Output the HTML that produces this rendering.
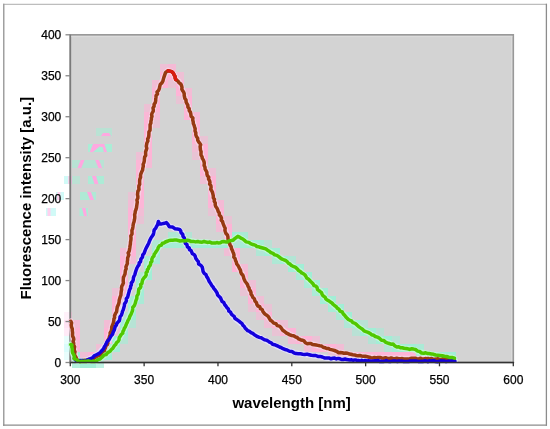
<!DOCTYPE html>
<html><head><meta charset="utf-8"><style>
html,body{margin:0;padding:0;background:#fff;}
svg{display:block;will-change:transform;}
.tl{font-family:"Liberation Sans",sans-serif;font-size:12px;fill:#000;stroke:#000;stroke-width:0.25px;}
.tt{font-family:"Liberation Sans",sans-serif;font-size:15px;font-weight:bold;fill:#000;}
.yt{stroke:#888;stroke-width:1.3;}
.xt{stroke:#333;stroke-width:1.3;}
.cv{fill:none;stroke-width:3.5;stroke-linejoin:round;stroke-linecap:round;}
.b{mix-blend-mode:color;}
</style></head><body>
<svg width="550" height="429" viewBox="0 0 550 429">
<rect x="0" y="0" width="550" height="429" fill="#fff"/>
<line x1="3" y1="4.3" x2="547" y2="4.3" stroke="#bdbdbd" stroke-width="1.3"/>
<line x1="3.75" y1="3.7" x2="3.75" y2="425.8" stroke="#a0a0a0" stroke-width="1.5"/>
<line x1="546.4" y1="3.7" x2="546.4" y2="425.8" stroke="#8c8c8c" stroke-width="1.3"/>
<line x1="3" y1="425.1" x2="547" y2="425.1" stroke="#8c8c8c" stroke-width="1.3"/>
<rect x="70.3" y="34.8" width="443.00" height="327.70" fill="#d3d3d3"/>
<rect x="160" y="64" width="8" height="8" fill="rgb(254,180,214)" opacity="0.63"/>
<rect x="168" y="64" width="8" height="8" fill="rgb(254,180,214)" opacity="0.78"/>
<rect x="160" y="72" width="8" height="8" fill="rgb(254,180,214)" opacity="1.00"/>
<rect x="168" y="72" width="8" height="8" fill="rgb(254,180,214)" opacity="1.00"/>
<rect x="176" y="72" width="8" height="8" fill="rgb(254,180,214)" opacity="0.63"/>
<rect x="152" y="80" width="8" height="8" fill="rgb(254,180,214)" opacity="0.71"/>
<rect x="160" y="80" width="8" height="8" fill="rgb(254,180,214)" opacity="1.00"/>
<rect x="168" y="80" width="8" height="8" fill="rgb(254,180,214)" opacity="0.51"/>
<rect x="176" y="80" width="8" height="8" fill="rgb(254,180,214)" opacity="1.00"/>
<rect x="152" y="88" width="8" height="8" fill="rgb(254,180,214)" opacity="1.00"/>
<rect x="176" y="88" width="8" height="8" fill="rgb(254,180,214)" opacity="1.00"/>
<rect x="184" y="88" width="8" height="8" fill="rgb(254,180,214)" opacity="0.75"/>
<rect x="152" y="96" width="8" height="8" fill="rgb(254,180,214)" opacity="1.00"/>
<rect x="176" y="96" width="8" height="8" fill="rgb(254,180,214)" opacity="0.51"/>
<rect x="184" y="96" width="8" height="8" fill="rgb(254,180,214)" opacity="1.00"/>
<rect x="144" y="104" width="8" height="8" fill="rgb(254,180,214)" opacity="0.60"/>
<rect x="152" y="104" width="8" height="8" fill="rgb(254,180,214)" opacity="1.00"/>
<rect x="184" y="104" width="8" height="8" fill="rgb(254,180,214)" opacity="1.00"/>
<rect x="144" y="112" width="8" height="8" fill="rgb(254,180,214)" opacity="0.90"/>
<rect x="152" y="112" width="8" height="8" fill="rgb(254,180,214)" opacity="0.81"/>
<rect x="184" y="112" width="8" height="8" fill="rgb(254,180,214)" opacity="0.94"/>
<rect x="192" y="112" width="8" height="8" fill="rgb(254,180,214)" opacity="0.79"/>
<rect x="144" y="120" width="8" height="8" fill="rgb(254,180,214)" opacity="1.00"/>
<rect x="152" y="120" width="8" height="8" fill="rgb(254,180,214)" opacity="0.53"/>
<rect x="192" y="120" width="8" height="8" fill="rgb(254,180,214)" opacity="1.00"/>
<rect x="144" y="128" width="8" height="8" fill="rgb(254,180,214)" opacity="1.00"/>
<rect x="192" y="128" width="8" height="8" fill="rgb(254,180,214)" opacity="1.00"/>
<rect x="144" y="136" width="8" height="8" fill="rgb(254,180,214)" opacity="1.00"/>
<rect x="192" y="136" width="8" height="8" fill="rgb(254,180,214)" opacity="1.00"/>
<rect x="200" y="136" width="8" height="8" fill="rgb(254,180,214)" opacity="0.51"/>
<rect x="144" y="144" width="8" height="8" fill="rgb(254,180,214)" opacity="1.00"/>
<rect x="192" y="144" width="8" height="8" fill="rgb(254,180,214)" opacity="0.70"/>
<rect x="200" y="144" width="8" height="8" fill="rgb(254,180,214)" opacity="1.00"/>
<rect x="136" y="152" width="8" height="8" fill="rgb(254,180,214)" opacity="0.62"/>
<rect x="144" y="152" width="8" height="8" fill="rgb(254,180,214)" opacity="1.00"/>
<rect x="192" y="152" width="8" height="8" fill="rgb(254,180,214)" opacity="0.49"/>
<rect x="200" y="152" width="8" height="8" fill="rgb(254,180,214)" opacity="1.00"/>
<rect x="136" y="160" width="8" height="8" fill="rgb(254,180,214)" opacity="0.94"/>
<rect x="144" y="160" width="8" height="8" fill="rgb(254,180,214)" opacity="0.77"/>
<rect x="200" y="160" width="8" height="8" fill="rgb(254,180,214)" opacity="1.00"/>
<rect x="136" y="168" width="8" height="8" fill="rgb(254,180,214)" opacity="1.00"/>
<rect x="200" y="168" width="8" height="8" fill="rgb(254,180,214)" opacity="1.00"/>
<rect x="208" y="168" width="8" height="8" fill="rgb(254,180,214)" opacity="0.61"/>
<rect x="136" y="176" width="8" height="8" fill="rgb(254,180,214)" opacity="1.00"/>
<rect x="200" y="176" width="8" height="8" fill="rgb(254,180,214)" opacity="0.63"/>
<rect x="208" y="176" width="8" height="8" fill="rgb(254,180,214)" opacity="1.00"/>
<rect x="136" y="184" width="8" height="8" fill="rgb(254,180,214)" opacity="1.00"/>
<rect x="208" y="184" width="8" height="8" fill="rgb(254,180,214)" opacity="1.00"/>
<rect x="128" y="192" width="8" height="8" fill="rgb(254,180,214)" opacity="0.51"/>
<rect x="136" y="192" width="8" height="8" fill="rgb(254,180,214)" opacity="1.00"/>
<rect x="208" y="192" width="8" height="8" fill="rgb(254,180,214)" opacity="1.00"/>
<rect x="128" y="200" width="8" height="8" fill="rgb(254,180,214)" opacity="0.73"/>
<rect x="136" y="200" width="8" height="8" fill="rgb(254,180,214)" opacity="0.96"/>
<rect x="208" y="200" width="8" height="8" fill="rgb(254,180,214)" opacity="0.97"/>
<rect x="216" y="200" width="8" height="8" fill="rgb(254,180,214)" opacity="0.78"/>
<rect x="128" y="208" width="8" height="8" fill="rgb(254,180,214)" opacity="0.98"/>
<rect x="136" y="208" width="8" height="8" fill="rgb(254,180,214)" opacity="0.72"/>
<rect x="208" y="208" width="8" height="8" fill="rgb(254,180,214)" opacity="0.51"/>
<rect x="216" y="208" width="8" height="8" fill="rgb(254,180,214)" opacity="1.00"/>
<rect x="128" y="216" width="8" height="8" fill="rgb(254,180,214)" opacity="1.00"/>
<rect x="136" y="216" width="8" height="8" fill="rgb(254,180,214)" opacity="0.49"/>
<rect x="216" y="216" width="8" height="8" fill="rgb(254,180,214)" opacity="1.00"/>
<rect x="224" y="216" width="8" height="8" fill="rgb(254,180,214)" opacity="0.51"/>
<rect x="128" y="224" width="8" height="8" fill="rgb(254,180,214)" opacity="1.00"/>
<rect x="216" y="224" width="8" height="8" fill="rgb(254,180,214)" opacity="0.71"/>
<rect x="224" y="224" width="8" height="8" fill="rgb(254,180,214)" opacity="1.00"/>
<rect x="128" y="232" width="8" height="8" fill="rgb(254,180,214)" opacity="1.00"/>
<rect x="168" y="232" width="8" height="8" fill="rgb(162,238,214)" opacity="0.73"/>
<rect x="176" y="232" width="8" height="8" fill="rgb(162,238,214)" opacity="0.67"/>
<rect x="184" y="232" width="8" height="8" fill="rgb(162,238,214)" opacity="0.62"/>
<rect x="224" y="232" width="8" height="8" fill="rgb(254,180,214)" opacity="1.00"/>
<rect x="232" y="232" width="8" height="8" fill="rgb(162,238,214)" opacity="1.00"/>
<rect x="240" y="232" width="8" height="8" fill="rgb(162,238,214)" opacity="0.86"/>
<rect x="128" y="240" width="8" height="8" fill="rgb(254,180,214)" opacity="1.00"/>
<rect x="152" y="240" width="8" height="8" fill="rgb(162,238,214)" opacity="0.72"/>
<rect x="160" y="240" width="8" height="8" fill="rgb(162,238,214)" opacity="1.00"/>
<rect x="168" y="240" width="8" height="8" fill="rgb(162,238,214)" opacity="0.94"/>
<rect x="176" y="240" width="8" height="8" fill="rgb(162,238,214)" opacity="0.97"/>
<rect x="184" y="240" width="8" height="8" fill="rgb(162,238,214)" opacity="1.00"/>
<rect x="192" y="240" width="8" height="8" fill="rgb(162,238,214)" opacity="1.00"/>
<rect x="200" y="240" width="8" height="8" fill="rgb(162,238,214)" opacity="1.00"/>
<rect x="208" y="240" width="8" height="8" fill="rgb(162,238,214)" opacity="1.00"/>
<rect x="216" y="240" width="8" height="8" fill="rgb(162,238,214)" opacity="1.00"/>
<rect x="224" y="240" width="8" height="8" fill="rgb(162,238,214)" opacity="1.00"/>
<rect x="232" y="240" width="8" height="8" fill="rgb(162,238,214)" opacity="0.63"/>
<rect x="240" y="240" width="8" height="8" fill="rgb(162,238,214)" opacity="0.92"/>
<rect x="248" y="240" width="8" height="8" fill="rgb(162,238,214)" opacity="1.00"/>
<rect x="256" y="240" width="8" height="8" fill="rgb(162,238,214)" opacity="0.95"/>
<rect x="264" y="240" width="8" height="8" fill="rgb(162,238,214)" opacity="0.51"/>
<rect x="120" y="248" width="8" height="8" fill="rgb(254,180,214)" opacity="0.70"/>
<rect x="128" y="248" width="8" height="8" fill="rgb(254,180,214)" opacity="1.00"/>
<rect x="152" y="248" width="8" height="8" fill="rgb(162,238,214)" opacity="1.00"/>
<rect x="224" y="248" width="8" height="8" fill="rgb(254,180,214)" opacity="0.69"/>
<rect x="232" y="248" width="8" height="8" fill="rgb(254,180,214)" opacity="1.00"/>
<rect x="256" y="248" width="8" height="8" fill="rgb(162,238,214)" opacity="0.71"/>
<rect x="264" y="248" width="8" height="8" fill="rgb(162,238,214)" opacity="1.00"/>
<rect x="272" y="248" width="8" height="8" fill="rgb(162,238,214)" opacity="1.00"/>
<rect x="120" y="256" width="8" height="8" fill="rgb(254,180,214)" opacity="0.98"/>
<rect x="128" y="256" width="8" height="8" fill="rgb(254,180,214)" opacity="0.73"/>
<rect x="144" y="256" width="8" height="8" fill="rgb(162,238,214)" opacity="0.88"/>
<rect x="152" y="256" width="8" height="8" fill="rgb(162,238,214)" opacity="0.84"/>
<rect x="232" y="256" width="8" height="8" fill="rgb(254,180,214)" opacity="1.00"/>
<rect x="272" y="256" width="8" height="8" fill="rgb(162,238,214)" opacity="0.77"/>
<rect x="280" y="256" width="8" height="8" fill="rgb(162,238,214)" opacity="1.00"/>
<rect x="288" y="256" width="8" height="8" fill="rgb(162,238,214)" opacity="0.65"/>
<rect x="120" y="264" width="8" height="8" fill="rgb(254,180,214)" opacity="1.00"/>
<rect x="144" y="264" width="8" height="8" fill="rgb(162,238,214)" opacity="1.00"/>
<rect x="232" y="264" width="8" height="8" fill="rgb(254,180,214)" opacity="1.00"/>
<rect x="240" y="264" width="8" height="8" fill="rgb(254,180,214)" opacity="0.75"/>
<rect x="288" y="264" width="8" height="8" fill="rgb(162,238,214)" opacity="1.00"/>
<rect x="296" y="264" width="8" height="8" fill="rgb(162,238,214)" opacity="1.00"/>
<rect x="120" y="272" width="8" height="8" fill="rgb(254,180,214)" opacity="1.00"/>
<rect x="136" y="272" width="8" height="8" fill="rgb(162,238,214)" opacity="0.65"/>
<rect x="144" y="272" width="8" height="8" fill="rgb(162,238,214)" opacity="1.00"/>
<rect x="240" y="272" width="8" height="8" fill="rgb(254,180,214)" opacity="1.00"/>
<rect x="296" y="272" width="8" height="8" fill="rgb(162,238,214)" opacity="0.83"/>
<rect x="304" y="272" width="8" height="8" fill="rgb(162,238,214)" opacity="1.00"/>
<rect x="120" y="280" width="8" height="8" fill="rgb(254,180,214)" opacity="1.00"/>
<rect x="136" y="280" width="8" height="8" fill="rgb(162,238,214)" opacity="1.00"/>
<rect x="240" y="280" width="8" height="8" fill="rgb(254,180,214)" opacity="1.00"/>
<rect x="248" y="280" width="8" height="8" fill="rgb(254,180,214)" opacity="0.64"/>
<rect x="304" y="280" width="8" height="8" fill="rgb(162,238,214)" opacity="0.85"/>
<rect x="312" y="280" width="8" height="8" fill="rgb(162,238,214)" opacity="1.00"/>
<rect x="112" y="288" width="8" height="8" fill="rgb(254,180,214)" opacity="0.59"/>
<rect x="120" y="288" width="8" height="8" fill="rgb(254,180,214)" opacity="1.00"/>
<rect x="136" y="288" width="8" height="8" fill="rgb(162,238,214)" opacity="1.00"/>
<rect x="240" y="288" width="8" height="8" fill="rgb(254,180,214)" opacity="0.51"/>
<rect x="248" y="288" width="8" height="8" fill="rgb(254,180,214)" opacity="1.00"/>
<rect x="312" y="288" width="8" height="8" fill="rgb(162,238,214)" opacity="0.85"/>
<rect x="320" y="288" width="8" height="8" fill="rgb(162,238,214)" opacity="1.00"/>
<rect x="112" y="296" width="8" height="8" fill="rgb(254,180,214)" opacity="1.00"/>
<rect x="120" y="296" width="8" height="8" fill="rgb(254,180,214)" opacity="0.70"/>
<rect x="128" y="296" width="8" height="8" fill="rgb(162,238,214)" opacity="0.89"/>
<rect x="136" y="296" width="8" height="8" fill="rgb(162,238,214)" opacity="0.86"/>
<rect x="248" y="296" width="8" height="8" fill="rgb(254,180,214)" opacity="1.00"/>
<rect x="256" y="296" width="8" height="8" fill="rgb(254,180,214)" opacity="0.64"/>
<rect x="320" y="296" width="8" height="8" fill="rgb(162,238,214)" opacity="1.00"/>
<rect x="328" y="296" width="8" height="8" fill="rgb(162,238,214)" opacity="1.00"/>
<rect x="112" y="304" width="8" height="8" fill="rgb(254,180,214)" opacity="1.00"/>
<rect x="128" y="304" width="8" height="8" fill="rgb(162,238,214)" opacity="1.00"/>
<rect x="248" y="304" width="8" height="8" fill="rgb(254,180,214)" opacity="0.50"/>
<rect x="256" y="304" width="8" height="8" fill="rgb(254,180,214)" opacity="1.00"/>
<rect x="264" y="304" width="8" height="8" fill="rgb(254,180,214)" opacity="0.52"/>
<rect x="328" y="304" width="8" height="8" fill="rgb(162,238,214)" opacity="0.90"/>
<rect x="336" y="304" width="8" height="8" fill="rgb(162,238,214)" opacity="1.00"/>
<rect x="64" y="312" width="6.3" height="8" fill="rgb(255,226,244)" opacity="0.49"/>
<rect x="70.3" y="312" width="1.7" height="8" fill="rgb(254,180,214)" opacity="0.49"/>
<rect x="112" y="312" width="8" height="8" fill="rgb(254,180,214)" opacity="1.00"/>
<rect x="120" y="312" width="8" height="8" fill="rgb(162,238,214)" opacity="0.55"/>
<rect x="128" y="312" width="8" height="8" fill="rgb(162,238,214)" opacity="1.00"/>
<rect x="256" y="312" width="8" height="8" fill="rgb(254,180,214)" opacity="0.54"/>
<rect x="264" y="312" width="8" height="8" fill="rgb(254,180,214)" opacity="1.00"/>
<rect x="336" y="312" width="8" height="8" fill="rgb(162,238,214)" opacity="0.77"/>
<rect x="344" y="312" width="8" height="8" fill="rgb(162,238,214)" opacity="1.00"/>
<rect x="64" y="320" width="6.3" height="8" fill="rgb(255,226,244)" opacity="0.97"/>
<rect x="70.3" y="320" width="1.7" height="8" fill="rgb(254,180,214)" opacity="0.97"/>
<rect x="72" y="320" width="8" height="8" fill="rgb(254,180,214)" opacity="0.74"/>
<rect x="104" y="320" width="8" height="8" fill="rgb(254,180,214)" opacity="0.73"/>
<rect x="112" y="320" width="8" height="8" fill="rgb(254,180,214)" opacity="0.99"/>
<rect x="120" y="320" width="8" height="8" fill="rgb(162,238,214)" opacity="1.00"/>
<rect x="128" y="320" width="8" height="8" fill="rgb(162,238,214)" opacity="0.59"/>
<rect x="264" y="320" width="8" height="8" fill="rgb(254,180,214)" opacity="0.65"/>
<rect x="272" y="320" width="8" height="8" fill="rgb(254,180,214)" opacity="1.00"/>
<rect x="280" y="320" width="8" height="8" fill="rgb(254,180,214)" opacity="0.60"/>
<rect x="344" y="320" width="8" height="8" fill="rgb(162,238,214)" opacity="0.74"/>
<rect x="352" y="320" width="8" height="8" fill="rgb(162,238,214)" opacity="1.00"/>
<rect x="360" y="320" width="8" height="8" fill="rgb(162,238,214)" opacity="0.56"/>
<rect x="64" y="328" width="6.3" height="8" fill="rgb(255,226,244)" opacity="0.71"/>
<rect x="70.3" y="328" width="1.7" height="8" fill="rgb(254,180,214)" opacity="0.71"/>
<rect x="72" y="328" width="8" height="8" fill="rgb(254,180,214)" opacity="0.99"/>
<rect x="104" y="328" width="8" height="8" fill="rgb(254,180,214)" opacity="1.00"/>
<rect x="112" y="328" width="8" height="8" fill="rgb(254,180,214)" opacity="0.57"/>
<rect x="120" y="328" width="8" height="8" fill="rgb(162,238,214)" opacity="1.00"/>
<rect x="272" y="328" width="8" height="8" fill="rgb(254,180,214)" opacity="0.50"/>
<rect x="280" y="328" width="8" height="8" fill="rgb(254,180,214)" opacity="1.00"/>
<rect x="288" y="328" width="8" height="8" fill="rgb(254,180,214)" opacity="0.98"/>
<rect x="352" y="328" width="8" height="8" fill="rgb(162,238,214)" opacity="0.52"/>
<rect x="360" y="328" width="8" height="8" fill="rgb(162,238,214)" opacity="1.00"/>
<rect x="368" y="328" width="8" height="8" fill="rgb(162,238,214)" opacity="1.00"/>
<rect x="376" y="328" width="8" height="8" fill="rgb(162,238,214)" opacity="0.50"/>
<rect x="64" y="336" width="6.3" height="8" fill="rgb(212,252,250)" opacity="0.53"/>
<rect x="70.3" y="336" width="1.7" height="8" fill="rgb(162,238,214)" opacity="0.53"/>
<rect x="72" y="336" width="8" height="8" fill="rgb(254,180,214)" opacity="1.00"/>
<rect x="104" y="336" width="8" height="8" fill="rgb(254,180,214)" opacity="1.00"/>
<rect x="112" y="336" width="8" height="8" fill="rgb(162,238,214)" opacity="1.00"/>
<rect x="120" y="336" width="8" height="8" fill="rgb(162,238,214)" opacity="0.61"/>
<rect x="288" y="336" width="8" height="8" fill="rgb(254,180,214)" opacity="0.75"/>
<rect x="296" y="336" width="8" height="8" fill="rgb(254,180,214)" opacity="1.00"/>
<rect x="304" y="336" width="8" height="8" fill="rgb(254,180,214)" opacity="1.00"/>
<rect x="312" y="336" width="8" height="8" fill="rgb(254,180,214)" opacity="0.57"/>
<rect x="368" y="336" width="8" height="8" fill="rgb(162,238,214)" opacity="0.62"/>
<rect x="376" y="336" width="8" height="8" fill="rgb(162,238,214)" opacity="1.00"/>
<rect x="384" y="336" width="8" height="8" fill="rgb(162,238,214)" opacity="1.00"/>
<rect x="392" y="336" width="8" height="8" fill="rgb(162,238,214)" opacity="0.52"/>
<rect x="64" y="344" width="6.3" height="8" fill="rgb(212,252,250)" opacity="0.87"/>
<rect x="70.3" y="344" width="1.7" height="8" fill="rgb(162,238,214)" opacity="0.87"/>
<rect x="72" y="344" width="8" height="8" fill="rgb(254,180,214)" opacity="1.00"/>
<rect x="96" y="344" width="8" height="8" fill="rgb(254,180,214)" opacity="0.66"/>
<rect x="104" y="344" width="8" height="8" fill="rgb(162,238,214)" opacity="0.91"/>
<rect x="112" y="344" width="8" height="8" fill="rgb(162,238,214)" opacity="1.00"/>
<rect x="304" y="344" width="8" height="8" fill="rgb(254,180,214)" opacity="0.71"/>
<rect x="312" y="344" width="8" height="8" fill="rgb(254,180,214)" opacity="1.00"/>
<rect x="320" y="344" width="8" height="8" fill="rgb(254,180,214)" opacity="1.00"/>
<rect x="328" y="344" width="8" height="8" fill="rgb(254,180,214)" opacity="1.00"/>
<rect x="336" y="344" width="8" height="8" fill="rgb(254,180,214)" opacity="0.71"/>
<rect x="384" y="344" width="8" height="8" fill="rgb(162,238,214)" opacity="0.61"/>
<rect x="392" y="344" width="8" height="8" fill="rgb(162,238,214)" opacity="1.00"/>
<rect x="400" y="344" width="8" height="8" fill="rgb(162,238,214)" opacity="1.00"/>
<rect x="408" y="344" width="8" height="8" fill="rgb(162,238,214)" opacity="1.00"/>
<rect x="416" y="344" width="8" height="8" fill="rgb(162,238,214)" opacity="0.83"/>
<rect x="64" y="352" width="6.3" height="8" fill="rgb(212,252,250)" opacity="0.54"/>
<rect x="70.3" y="352" width="1.7" height="8" fill="rgb(162,238,214)" opacity="0.54"/>
<rect x="72" y="352" width="8" height="8" fill="rgb(162,238,214)" opacity="1.00"/>
<rect x="80" y="352" width="8" height="8" fill="rgb(254,180,214)" opacity="0.69"/>
<rect x="88" y="352" width="8" height="8" fill="rgb(254,180,214)" opacity="1.00"/>
<rect x="96" y="352" width="8" height="8" fill="rgb(162,238,214)" opacity="1.00"/>
<rect x="104" y="352" width="8" height="8" fill="rgb(162,238,214)" opacity="1.00"/>
<rect x="328" y="352" width="8" height="8" fill="rgb(254,180,214)" opacity="0.53"/>
<rect x="336" y="352" width="8" height="8" fill="rgb(254,180,214)" opacity="0.97"/>
<rect x="344" y="352" width="8" height="8" fill="rgb(254,180,214)" opacity="1.00"/>
<rect x="352" y="352" width="8" height="8" fill="rgb(254,180,214)" opacity="1.00"/>
<rect x="360" y="352" width="8" height="8" fill="rgb(254,180,214)" opacity="1.00"/>
<rect x="368" y="352" width="8" height="8" fill="rgb(254,180,214)" opacity="1.00"/>
<rect x="376" y="352" width="8" height="8" fill="rgb(254,180,214)" opacity="1.00"/>
<rect x="384" y="352" width="8" height="8" fill="rgb(254,180,214)" opacity="1.00"/>
<rect x="392" y="352" width="8" height="8" fill="rgb(254,180,214)" opacity="1.00"/>
<rect x="400" y="352" width="8" height="8" fill="rgb(254,180,214)" opacity="1.00"/>
<rect x="408" y="352" width="8" height="8" fill="rgb(254,180,214)" opacity="1.00"/>
<rect x="416" y="352" width="8" height="8" fill="rgb(162,238,214)" opacity="0.89"/>
<rect x="424" y="352" width="8" height="8" fill="rgb(162,238,214)" opacity="1.00"/>
<rect x="432" y="352" width="8" height="8" fill="rgb(162,238,214)" opacity="1.00"/>
<rect x="440" y="352" width="8" height="8" fill="rgb(162,238,214)" opacity="1.00"/>
<rect x="448" y="352" width="8" height="8" fill="rgb(162,238,214)" opacity="1.00"/>
<rect x="72" y="360" width="8" height="8" fill="rgb(162,238,214)" opacity="0.82"/>
<rect x="80" y="360" width="8" height="8" fill="rgb(162,238,214)" opacity="1.00"/>
<rect x="88" y="360" width="8" height="8" fill="rgb(162,238,214)" opacity="1.00"/>
<rect x="96" y="360" width="8" height="8" fill="rgb(162,238,214)" opacity="0.69"/>
<rect x="96" y="128" width="16" height="8" fill="#a6efd6" opacity="0.55"/>
<polygon points="103,133 109,133 111,136 101,136" fill="#ffa8e0"/>
<rect x="88" y="144" width="24" height="8" fill="#a6efd6" opacity="0.9"/>
<polygon points="93,144 102.5,144 93,152 89.8,152" fill="#ffa8e0"/>
<polygon points="96.3,144 104.3,144 103.5,147 101,147" fill="#ffa8e0"/>
<polygon points="102,144 104.3,144 107,152 103.8,152" fill="#ffa8e0"/>
<rect x="72" y="160" width="32" height="8" fill="#a6efd6" opacity="0.6"/>
<polygon points="80.7,160 84.5,160 81.3,168 77.5,168" fill="#ffa8e0"/>
<polygon points="95.2,160 99,160 102.2,168 98.4,168" fill="#ffa8e0"/>
<rect x="64" y="176" width="6.299999999999997" height="8" fill="#ccf9f6" opacity="0.9"/>
<rect x="70.3" y="176" width="9.700000000000003" height="8" fill="#a6efd6" opacity="0.5"/>
<rect x="88" y="176" width="16" height="8" fill="#a6efd6" opacity="0.85"/>
<rect x="68.2" y="176" width="2.0999999999999943" height="8" fill="#ffd0ee" opacity="1"/>
<rect x="70.3" y="176" width="1.4000000000000057" height="8" fill="#ffa8e0" opacity="1"/>
<polygon points="92,176 96,176 98.5,184 94.5,184" fill="#ffa8e0"/>
<rect x="56" y="192" width="8" height="8" fill="#ccf9f6" opacity="0.9"/>
<polygon points="57.5,192 60.5,192 60,200 57,200" fill="#ffd0ee"/>
<rect x="80" y="192" width="16" height="8" fill="#a6efd6" opacity="0.8"/>
<polygon points="87,192 91,192 94,200 90,200" fill="#ffa8e0"/>
<rect x="46" y="208" width="10" height="8" fill="#ccf9f6" opacity="0.9"/>
<polygon points="47.5,208 50.5,208 50.5,216 47.5,216" fill="#ffd0ee"/>
<rect x="79.5" y="208" width="8.5" height="8" fill="#a6efd6" opacity="0.85"/>
<polygon points="82,208 85.5,208 87,216 84,216" fill="#ffa8e0"/>
<rect x="70.3" y="34.8" width="443.00" height="327.70" fill="none" stroke="#999" stroke-width="1.6"/>
<line x1="70.3" y1="34.8" x2="70.3" y2="362.5" stroke="#7a7a7a" stroke-width="1.6"/>
<line x1="71.3" y1="36.6" x2="512.3" y2="36.6" stroke="#dcdcdc" stroke-width="1"/>
<line x1="511.6" y1="36" x2="511.6" y2="361.5" stroke="#dcdcdc" stroke-width="1"/>
<polyline class="cv" stroke="#f6d2e2" style="stroke-width:5.7px" points="70.8,321.2 71.6,325.0 72.5,332.8 73.3,339.5 73.8,345.1 74.7,351.8 75.5,357.4 76.6,360.2 79.0,360.6 85.0,360.6 92.0,359.4 100.0,355.0 104.0,350.5 107.5,343.0 110.2,333.0 111.5,329.0 112.3,325.3 113.4,320.7 115.0,316.0 116.3,311.5 117.6,307.0 118.9,302.0 120.6,295.0 122.0,288.0 123.1,281.0 124.5,274.0 126.2,267.0 127.6,260.0 128.6,253.0 129.7,246.0 130.8,240.0 131.6,234.0 132.9,227.0 134.3,220.0 135.4,213.0 136.4,206.0 137.2,200.0 138.2,193.0 139.3,186.0 140.3,179.0 141.4,172.0 142.6,170.0 144.7,159.0 146.8,146.4 148.9,133.8 151.0,121.2 153.2,108.0 155.4,100.6 157.5,92.2 159.6,86.6 162.4,81.0 165.9,72.6 168.0,70.5 171.5,71.9 174.3,74.7 175.7,79.6 178.5,81.0 181.3,85.9 183.4,92.2 185.8,100.0 188.4,107.0 190.5,114.0 192.6,118.2 194.0,125.2 195.4,130.8 196.8,136.4 198.2,142.0 200.3,144.8 201.3,155.0 204.1,163.4 205.5,169.0 208.3,177.4 210.4,185.8 212.5,194.2 214.6,201.2 216.7,208.1 219.6,215.0 223.1,223.4 225.9,231.8 228.7,240.2 231.5,248.6 234.3,257.0 237.8,265.4 242.0,273.7 244.5,279.8 248.7,288.2 251.9,295.7 254.4,298.8 256.9,304.5 260.7,308.3 264.4,312.7 268.2,317.1 272.0,321.5 275.8,324.0 280.8,327.8 283.0,329.9 286.5,332.5 290.0,334.7 293.5,336.0 297.0,337.8 300.5,339.5 303.9,341.3 307.4,343.5 310.9,343.5 314.4,344.8 317.9,345.6 321.4,346.5 324.9,347.8 328.4,349.1 330.0,349.6 334.4,350.9 338.7,352.3 344.0,353.1 349.2,354.0 356.2,355.3 363.2,356.2 369.3,357.1 376.2,357.9 387.3,358.1 396.7,358.4 406.0,358.6 415.3,358.6 430.0,358.9 454.0,359.2"/>
<polyline class="cv" stroke="#e2e0fa" style="stroke-width:5.7px" points="74.4,358.5 77.2,360.7 80.0,361.0 85.0,360.7 88.4,359.6 92.8,357.4 96.0,355.1 98.8,353.8 101.6,350.3 104.4,346.8 107.2,342.6 110.0,338.4 112.1,334.2 114.2,330.0 117.2,323.7 119.6,318.8 121.7,313.2 123.5,307.6 125.3,302.0 127.3,297.1 128.7,292.9 130.1,288.0 131.5,283.1 132.9,279.6 134.4,274.5 136.0,270.5 138.1,266.3 140.2,261.4 142.1,257.0 143.6,253.2 145.7,249.0 147.8,244.8 149.9,240.6 152.0,236.4 153.7,232.2 155.5,228.0 157.2,224.4 158.5,221.8 159.8,223.7 161.7,224.4 164.4,223.1 166.3,222.8 167.6,224.4 169.6,226.4 172.2,227.3 174.8,228.7 177.5,228.7 179.4,229.6 181.4,232.3 182.7,234.5 183.8,238.0 185.5,243.2 187.8,246.7 191.5,252.2 194.8,256.0 196.9,260.2 199.0,263.7 201.8,267.2 203.2,271.4 205.6,274.9 207.4,278.4 209.8,281.9 212.3,285.4 215.0,289.5 217.8,294.9 222.4,301.3 226.9,307.6 231.5,314.0 236.0,319.5 238.0,321.0 241.8,324.0 245.6,327.8 249.3,331.6 254.4,334.7 259.4,337.2 264.4,339.7 269.5,342.3 276.0,345.8 283.0,348.7 287.4,350.4 291.7,351.7 296.1,353.1 300.5,353.9 304.8,354.4 309.2,354.8 313.5,355.7 317.9,356.1 322.3,357.0 326.6,357.9 331.0,358.3 340.0,359.0 350.0,360.0 360.0,360.7 375.0,361.1 455.0,361.2"/>
<polyline class="cv" stroke="#c4f4d8" style="stroke-width:5.7px" points="70.8,344.5 71.6,345.0 72.7,352.9 74.4,358.5 77.2,360.7 80.0,361.2 85.0,361.2 94.7,361.2 98.1,360.0 103.0,356.6 107.2,353.1 110.0,350.7 112.5,348.0 114.6,345.6 116.5,342.8 118.6,339.6 120.6,336.2 122.3,333.0 123.7,330.0 126.1,325.3 127.8,320.7 129.6,316.3 131.5,312.0 133.1,307.3 135.0,302.7 136.6,298.4 137.8,294.0 139.3,289.3 141.0,284.7 143.0,280.0 145.0,276.5 146.6,273.0 148.3,268.5 150.1,264.0 152.0,259.5 153.8,256.0 155.5,253.2 157.6,249.0 159.7,246.2 162.5,243.4 165.3,241.6 168.0,241.1 169.1,240.5 172.7,240.0 176.4,240.0 180.0,240.5 183.6,240.9 187.3,240.5 190.9,240.9 195.5,241.8 200.0,242.2 206.2,242.0 213.3,243.0 220.3,242.5 227.3,241.5 233.1,240.2 237.8,236.5 241.0,238.0 246.2,241.6 248.7,242.9 252.5,244.3 259.9,247.6 263.7,248.1 267.4,250.4 271.1,252.3 274.9,254.6 278.6,256.9 282.3,258.8 285.7,260.9 289.5,264.1 293.2,266.0 296.9,268.8 300.7,271.6 304.4,274.9 308.1,279.1 311.9,282.8 315.6,286.5 317.8,289.2 320.6,291.3 323.4,295.5 326.2,299.0 329.0,300.7 331.8,303.2 334.6,306.0 337.4,308.1 340.2,310.9 343.7,313.9 347.5,318.1 351.2,321.3 354.9,323.7 358.7,326.5 362.4,329.3 366.1,331.6 369.9,333.5 373.6,335.3 377.3,337.2 381.7,339.9 385.5,341.8 389.2,343.2 392.9,344.6 396.7,346.5 400.4,347.9 404.1,348.3 407.9,348.8 411.6,349.3 415.3,349.9 417.5,351.5 419.5,352.0 423.9,352.9 429.1,353.8 433.5,354.5 437.8,355.1 442.2,356.0 446.5,356.9 450.9,357.3 454.4,358.2"/>
<polyline class="cv" stroke="#963a12" points="70.8,321.2 71.6,323.0 71.2,325.1 71.5,327.0 72.3,328.9 72.3,330.8 72.6,332.8 72.5,334.5 72.6,336.2 73.5,337.8 73.8,339.4 73.1,341.4 73.7,343.2 73.5,345.1 74.6,346.7 74.3,348.4 74.2,350.2 75.0,351.8 74.5,353.7 74.8,355.6 76.0,357.3 77.0,359.8 79.0,360.6 81.0,361.1 83.0,360.5 85.0,360.3 86.7,360.2 88.4,359.5 90.2,359.4 92.0,359.3 93.6,358.5 95.1,357.4 96.7,356.5 98.3,355.6 100.0,355.0 101.2,353.3 102.3,351.7 104.3,350.7 104.8,349.0 105.5,347.6 105.8,345.9 107.3,344.7 107.9,343.1 107.5,341.2 108.2,339.6 109.1,338.1 109.5,336.4 110.2,334.8 110.1,333.0 111.2,331.1 111.7,329.0 111.7,327.1 112.4,325.3 113.3,323.1 113.8,320.8 113.9,319.1 114.6,317.6 114.5,315.8 115.4,313.7 116.6,311.6 116.9,309.2 117.3,306.9 118.1,305.3 118.7,303.7 119.1,302.0 119.2,300.2 119.7,298.5 120.2,296.8 120.9,295.1 121.0,293.3 121.2,291.5 121.6,289.7 121.5,287.9 121.8,286.2 122.8,284.5 123.4,282.8 123.2,281.0 123.3,279.2 123.4,277.4 124.2,275.8 125.0,274.1 125.2,272.3 125.4,270.5 126.2,268.8 125.9,266.9 126.6,265.3 127.4,263.6 127.3,261.8 127.6,260.0 127.6,258.2 128.2,256.5 128.8,254.8 128.1,252.9 129.2,251.3 129.5,249.6 129.8,247.8 130.0,246.0 130.4,244.1 130.5,242.0 130.9,240.0 131.0,238.0 130.8,235.9 132.0,234.1 132.0,232.3 131.9,230.4 132.6,228.8 132.9,227.0 133.1,225.2 133.4,223.5 134.0,221.8 134.4,220.0 134.7,218.3 134.8,216.5 134.6,214.7 135.1,213.0 135.3,211.2 136.0,209.5 136.5,207.8 136.7,206.0 137.0,204.0 137.3,202.0 136.9,200.0 137.8,198.3 137.9,196.5 137.5,194.7 137.7,192.9 137.9,191.2 139.0,189.5 138.8,187.7 138.9,185.9 139.7,184.3 139.6,182.5 139.6,180.7 139.9,178.9 140.6,177.3 140.5,175.4 140.9,173.7 141.6,172.1 142.6,170.0 142.8,168.1 143.3,166.3 143.1,164.4 143.9,162.6 144.3,160.8 144.4,158.9 144.6,157.1 145.7,155.5 145.6,153.6 145.6,151.7 146.3,150.0 146.8,148.3 146.3,146.3 146.6,144.5 147.0,142.7 147.9,141.0 147.6,139.1 148.5,137.4 148.8,135.6 148.9,133.8 148.9,131.9 150.0,130.3 150.1,128.5 150.1,126.6 150.1,124.7 150.9,123.0 150.9,121.2 151.4,119.6 151.4,117.9 152.0,116.3 151.6,114.5 152.2,112.9 153.2,111.4 153.3,109.7 153.0,108.0 154.1,106.3 154.1,104.2 155.3,102.6 155.7,100.7 155.7,98.9 156.0,97.2 156.1,95.4 157.5,94.0 157.0,92.0 158.5,90.5 159.4,88.6 159.7,86.6 160.2,84.6 161.8,83.0 162.9,81.2 163.3,79.4 163.8,77.6 164.4,75.9 165.0,74.2 165.6,72.4 168.1,70.7 169.8,71.1 171.7,71.6 173.2,73.0 174.1,74.8 175.0,76.3 175.2,78.0 175.8,79.5 178.2,81.3 179.1,82.9 180.8,84.0 181.6,85.8 182.0,87.4 181.8,89.2 182.6,90.7 183.6,92.1 184.2,93.7 184.2,95.4 184.5,97.0 184.9,98.6 186.0,99.9 186.1,101.9 186.9,103.6 187.8,105.2 187.9,107.2 189.2,108.7 189.2,110.6 190.4,112.1 190.8,113.9 191.1,116.3 192.9,118.1 192.7,120.0 193.2,121.7 193.3,123.5 194.1,125.2 194.6,127.0 195.2,128.9 195.0,130.9 195.8,132.7 195.8,134.7 196.4,136.5 197.7,138.2 197.7,140.1 198.6,141.8 199.7,143.1 200.7,144.6 200.1,146.5 200.3,148.2 200.4,149.9 201.1,151.6 201.0,153.3 201.0,155.1 202.0,156.6 202.3,158.4 203.3,159.9 204.0,161.6 204.3,163.3 204.1,165.4 205.0,167.2 205.1,169.1 206.1,170.7 206.9,172.3 206.9,174.1 207.4,175.8 208.8,177.2 208.5,179.1 209.6,180.7 210.0,182.3 209.6,184.2 210.9,185.7 211.1,187.4 210.7,189.3 211.7,190.8 212.5,192.4 212.9,194.1 213.3,195.9 213.3,197.8 214.5,199.3 214.2,201.3 215.3,202.9 215.2,204.8 215.7,206.5 216.9,208.0 217.7,209.7 218.2,211.5 219.3,213.1 219.4,215.1 220.8,216.5 221.5,218.2 221.2,220.2 222.6,221.6 223.0,223.4 223.7,225.1 224.4,226.7 225.2,228.3 224.9,230.3 225.4,232.0 226.0,233.6 227.4,235.0 227.9,236.7 228.0,238.6 228.2,240.4 229.2,241.9 229.6,243.6 230.2,245.3 231.2,246.8 231.5,248.6 232.3,250.2 232.9,251.9 233.6,253.5 234.0,255.2 233.8,257.2 235.1,258.7 235.5,260.4 236.3,262.1 236.7,263.9 237.9,265.3 238.8,267.0 239.6,268.6 240.5,270.3 240.8,272.2 241.6,273.9 242.8,275.1 243.4,276.7 243.8,278.3 244.4,279.8 245.2,281.5 246.4,283.0 247.5,284.6 248.1,286.4 249.1,288.0 249.3,289.7 250.4,291.0 251.0,292.5 251.1,294.3 252.1,295.6 252.9,297.5 254.4,298.8 254.9,300.9 256.4,302.4 256.9,304.5 257.9,306.0 259.8,306.7 260.3,308.6 262.2,309.5 262.9,311.4 264.0,313.0 265.4,314.4 267.1,315.5 268.5,316.8 269.5,318.6 270.4,320.3 272.1,321.3 273.7,323.1 276.0,323.7 277.2,325.6 279.4,326.1 280.9,327.6 282.7,330.2 284.6,331.5 286.2,332.9 288.1,333.9 289.9,334.9 291.7,335.5 293.6,335.7 295.3,336.8 297.2,337.5 298.6,338.9 300.4,339.7 302.3,340.2 304.1,340.9 305.4,342.8 307.3,343.8 309.1,343.6 310.9,343.5 312.5,344.5 314.4,344.8 316.2,345.1 317.9,345.4 319.7,345.8 321.6,346.0 323.1,347.3 324.9,347.7 326.6,348.5 328.6,348.6 330.0,349.4 332.3,349.9 334.5,350.5 336.6,351.3 338.6,352.7 340.5,352.5 342.2,352.7 344.0,353.2 345.8,353.1 347.6,353.2 349.2,354.0 350.9,354.3 352.7,354.8 354.5,354.9 356.2,355.5 357.9,355.8 359.7,355.5 361.5,356.0 363.2,356.2 365.3,356.2 367.3,356.7 369.3,357.2 371.0,357.7 372.7,358.0 374.5,357.5 376.2,358.1 378.1,357.4 379.9,357.5 381.7,358.0 383.6,358.4 385.5,357.7 387.3,358.4 389.2,358.6 391.1,358.0 392.9,358.5 394.8,358.7 396.7,358.3 398.6,358.7 400.4,358.7 402.3,358.6 404.1,359.0 406.0,359.0 407.9,359.1 409.7,358.7 411.6,358.2 413.4,358.3 415.3,358.3 416.9,358.7 418.6,359.0 420.2,358.2 421.8,358.9 423.5,359.0 425.1,358.6 426.7,358.8 428.4,358.5 430.0,359.2 431.6,358.4 433.2,359.5 434.8,359.3 436.4,359.1 438.0,358.7 439.6,359.5 441.2,359.5 442.8,358.7 444.4,359.4 446.0,359.5 447.6,359.3 449.2,359.4 450.8,359.1 452.4,359.6 454.0,359.2"/>
<polyline class="cv" stroke="#d81a10" points="168.1,70.7 169.8,71.1 171.7,71.6 173.2,73.0 174.1,74.8 175.0,76.3 175.2,78.0 175.8,79.5"/>
<polyline class="cv" stroke="#1400dc" points="74.4,358.5 75.5,360.0 77.0,361.2 80.0,360.5 81.6,360.4 83.4,361.2 85.0,361.0 86.8,360.3 88.3,359.4 89.9,359.0 91.4,358.2 92.8,357.5 94.2,355.9 96.0,355.0 98.7,353.7 100.4,352.2 102.0,350.6 103.4,348.9 104.4,346.8 105.3,345.4 106.1,343.9 106.8,342.3 107.7,340.9 109.0,339.8 109.8,338.3 110.9,336.2 112.5,334.4 113.2,332.1 114.3,330.0 114.7,328.3 115.2,326.6 116.3,325.2 116.8,323.5 118.0,322.1 119.3,320.7 119.8,318.9 120.0,316.8 121.4,315.2 122.0,313.3 122.5,311.4 123.3,309.6 123.8,307.7 124.4,305.8 124.5,303.8 125.8,302.2 126.4,300.6 126.3,298.6 127.6,297.2 128.2,295.1 128.7,292.9 129.2,291.3 129.6,289.6 130.5,288.1 130.6,286.4 131.4,284.8 131.3,283.0 132.6,281.5 133.3,279.7 133.4,277.9 134.0,276.2 134.8,274.7 135.4,272.6 136.0,270.5 136.8,268.3 137.9,266.2 139.0,264.8 139.2,262.9 140.6,261.6 140.9,259.1 142.5,257.2 142.7,255.0 144.1,253.4 144.9,251.2 145.7,249.0 146.8,246.9 147.9,244.9 148.9,242.7 149.7,240.5 150.7,238.4 152.0,236.4 153.3,234.5 153.8,232.3 154.2,229.9 155.8,228.1 156.6,226.3 157.6,224.6 158.4,221.5 159.6,223.9 161.6,223.9 164.5,223.3 166.4,222.6 167.8,224.2 169.4,226.7 172.4,226.9 174.8,228.7 177.4,229.1 179.6,229.4 180.7,230.8 181.0,232.5 182.8,234.5 183.0,236.3 184.3,237.8 184.5,239.7 185.3,241.4 185.3,243.3 187.0,244.7 187.4,247.0 189.2,247.8 189.4,249.6 191.0,250.5 191.7,252.0 192.3,253.7 194.0,254.5 195.1,255.8 195.7,258.2 197.0,260.1 198.4,261.7 198.6,264.0 200.7,265.2 202.2,267.0 202.7,269.2 203.1,271.5 204.2,273.3 206.0,274.7 206.7,276.6 207.8,278.1 208.6,280.1 209.6,282.1 210.8,283.8 211.9,285.7 213.0,286.9 213.8,288.4 214.8,289.6 216.0,291.3 217.1,293.0 217.6,295.0 219.1,296.4 220.5,297.8 221.3,299.7 222.1,301.5 223.9,302.6 224.6,304.5 225.9,306.0 226.9,307.6 228.4,309.0 228.8,311.1 230.6,312.2 231.4,314.1 232.7,315.3 234.2,316.4 234.8,318.2 236.3,319.2 238.3,320.6 239.6,321.6 240.8,322.7 242.1,323.7 243.0,325.4 244.3,326.5 245.2,328.2 246.5,329.4 247.7,330.7 249.5,331.4 251.0,332.6 252.8,333.4 254.4,334.8 256.0,335.7 257.6,336.7 259.3,337.4 261.2,337.8 262.8,338.8 264.4,339.7 266.3,340.1 268.0,341.0 269.5,342.2 271.3,342.8 272.6,344.3 274.5,344.7 276.2,345.4 277.9,346.2 279.6,347.0 281.4,347.7 283.0,348.7 285.2,349.5 287.5,350.2 289.5,351.2 291.8,351.4 293.8,352.8 296.0,353.6 298.3,353.7 300.5,353.8 302.6,354.2 304.8,354.5 307.0,354.1 309.2,354.7 311.3,355.3 313.6,355.4 315.7,355.5 317.9,356.4 320.1,356.4 322.3,357.0 324.4,357.9 326.6,358.0 328.8,357.9 331.0,358.8 332.8,358.3 334.6,358.1 336.4,358.9 338.2,358.4 340.0,358.8 341.6,359.5 343.3,359.5 345.1,359.0 346.7,359.6 348.3,359.7 350.0,360.0 351.7,359.8 353.3,360.3 355.0,359.9 356.7,360.2 358.3,360.4 360.0,361.2 361.7,360.3 363.3,361.1 365.0,360.5 366.7,361.0 368.3,360.8 370.0,360.9 371.7,361.3 373.3,360.9 375.0,360.7 376.6,360.7 378.2,360.6 379.8,361.5 381.4,361.3 383.0,361.6 384.6,361.3 386.2,360.6 387.8,361.3 389.4,361.4 391.0,361.4 392.6,361.1 394.2,361.0 395.8,361.1 397.4,361.5 399.0,360.9 400.6,361.2 402.2,361.1 403.8,361.6 405.4,361.5 407.0,361.6 408.6,361.5 410.2,360.9 411.8,360.9 413.4,361.1 415.0,360.9 416.6,361.1 418.2,361.4 419.8,361.6 421.4,361.3 423.0,361.5 424.6,360.7 426.2,361.0 427.8,361.7 429.4,360.8 431.0,361.1 432.6,360.7 434.2,360.7 435.8,361.6 437.4,361.7 439.0,361.3 440.6,360.8 442.2,361.0 443.8,360.9 445.4,361.4 447.0,361.4 448.6,361.1 450.2,361.2 451.8,360.8 453.4,361.2 455.0,361.2"/>
<polyline class="cv" stroke="#50c800" points="70.8,344.5 71.9,344.9 71.8,347.0 72.3,348.9 72.3,350.9 72.6,352.9 73.7,354.6 74.3,356.5 74.1,358.7 76.0,359.4 77.3,360.4 79.9,361.7 81.7,361.2 83.3,361.6 85.0,361.2 86.6,361.4 88.2,360.8 89.8,361.3 91.5,361.6 93.1,361.2 94.7,361.5 96.5,360.8 97.9,359.6 99.9,359.1 101.4,357.8 102.9,356.4 104.1,355.0 106.1,354.6 107.2,353.1 108.8,352.1 110.3,351.0 111.4,349.5 112.8,348.3 114.5,345.5 115.8,344.4 116.4,342.8 118.0,341.5 119.0,339.8 119.2,337.7 120.3,336.0 121.2,334.5 122.8,333.2 122.9,331.5 123.8,330.1 124.3,328.3 125.3,326.9 126.0,325.2 126.5,323.7 127.3,322.3 127.9,320.7 129.1,318.7 129.8,316.4 131.0,314.3 131.9,312.1 132.5,310.6 132.7,308.9 132.8,307.2 134.1,305.9 134.8,304.4 135.4,302.9 135.9,300.6 136.8,298.5 136.9,296.1 138.2,294.1 138.4,292.5 138.6,290.8 138.8,289.1 140.2,287.9 140.9,286.4 140.6,284.5 142.0,283.3 142.2,281.5 142.7,279.8 143.8,278.1 145.3,276.6 146.2,274.9 146.1,272.8 147.3,271.5 147.3,269.8 148.5,268.6 148.7,266.9 149.9,265.7 150.6,264.2 150.7,262.5 151.9,261.2 151.8,259.4 152.5,257.5 153.9,256.1 154.2,254.3 155.2,253.0 156.5,251.1 157.7,249.1 158.3,247.4 159.3,245.9 161.4,245.1 162.4,243.2 164.2,242.9 165.4,242.0 168.0,241.0 169.1,240.5 170.9,240.3 172.7,240.2 174.6,240.1 176.4,240.1 178.2,240.4 179.9,241.0 181.8,240.7 183.6,240.8 185.5,240.9 187.3,240.2 189.1,240.5 190.8,241.4 193.2,241.4 195.5,241.9 197.8,241.5 200.0,242.1 202.1,242.2 204.1,241.5 206.2,242.1 208.0,242.4 209.8,242.0 211.5,242.9 213.3,243.0 215.1,243.1 216.8,242.6 218.6,242.9 220.3,242.8 222.0,241.7 223.7,241.5 225.6,241.9 227.4,242.0 229.2,240.8 231.2,240.6 233.1,240.3 234.5,238.8 236.1,237.6 237.8,236.3 239.5,237.1 240.9,238.1 242.9,239.0 244.5,240.3 246.0,241.9 248.9,242.4 250.6,243.7 252.4,244.5 254.1,244.8 255.6,245.3 256.8,246.6 258.5,246.7 260.0,247.3 261.8,247.8 263.6,248.3 265.8,248.9 267.5,250.2 269.3,251.2 270.9,252.6 273.0,253.4 274.7,254.9 276.9,255.4 278.7,256.7 280.4,258.0 282.1,259.2 284.0,259.8 285.9,260.7 287.2,261.6 288.2,263.1 289.7,263.8 291.2,265.4 293.0,266.3 295.3,267.1 297.0,268.6 298.6,270.5 300.6,271.7 301.7,273.0 303.3,273.7 304.7,274.6 305.8,276.1 306.6,277.9 308.3,278.9 309.5,280.2 310.7,281.5 312.0,282.7 313.2,284.0 314.0,285.6 315.9,286.2 317.1,287.5 317.5,289.6 318.9,290.6 320.2,291.7 321.6,292.7 322.1,294.4 323.0,295.8 325.0,297.1 326.0,299.2 327.4,300.2 328.9,300.8 330.4,302.0 332.0,303.0 333.3,304.5 334.8,305.8 336.3,306.7 337.3,308.2 339.0,309.3 340.0,311.2 342.3,312.0 343.4,314.2 344.8,315.4 345.9,317.0 347.2,318.4 348.4,319.5 349.9,320.3 351.5,320.9 352.9,322.7 355.1,323.4 356.9,324.9 358.6,326.6 360.5,327.9 362.5,329.2 364.0,330.9 366.0,331.7 368.1,332.4 370.0,333.3 371.6,334.8 373.6,335.3 375.3,336.5 377.4,337.1 378.9,337.8 380.2,339.0 381.5,340.2 383.8,340.5 385.4,342.1 387.2,342.9 389.1,343.5 390.9,344.2 393.1,344.1 394.7,345.7 396.5,346.9 398.7,346.7 400.5,347.7 402.3,347.8 404.1,348.3 406.0,348.5 407.9,348.8 409.7,349.4 411.7,348.8 413.5,349.1 415.5,349.5 417.7,351.1 419.6,351.5 421.6,353.0 423.8,353.3 425.7,352.8 427.4,353.5 429.1,353.6 431.3,353.9 433.5,354.3 435.6,355.0 437.8,355.2 440.0,355.4 442.3,355.7 444.4,356.3 446.6,356.5 448.7,357.2 450.9,357.5 452.7,357.6 454.4,358.2"/>
<line x1="69.5" y1="362.5" x2="514.0999999999999" y2="362.5" stroke="#333" stroke-width="1.5"/>
<line x1="65.5" y1="362.50" x2="70.3" y2="362.50" class="yt"/>
<text x="61.3" y="366.50" class="tl" text-anchor="end">0</text>
<line x1="65.5" y1="321.54" x2="70.3" y2="321.54" class="yt"/>
<text x="61.3" y="325.54" class="tl" text-anchor="end">50</text>
<line x1="65.5" y1="280.57" x2="70.3" y2="280.57" class="yt"/>
<text x="61.3" y="284.57" class="tl" text-anchor="end">100</text>
<line x1="65.5" y1="239.61" x2="70.3" y2="239.61" class="yt"/>
<text x="61.3" y="243.61" class="tl" text-anchor="end">150</text>
<line x1="65.5" y1="198.65" x2="70.3" y2="198.65" class="yt"/>
<text x="61.3" y="202.65" class="tl" text-anchor="end">200</text>
<line x1="65.5" y1="157.69" x2="70.3" y2="157.69" class="yt"/>
<text x="61.3" y="161.69" class="tl" text-anchor="end">250</text>
<line x1="65.5" y1="116.72" x2="70.3" y2="116.72" class="yt"/>
<text x="61.3" y="120.72" class="tl" text-anchor="end">300</text>
<line x1="65.5" y1="75.76" x2="70.3" y2="75.76" class="yt"/>
<text x="61.3" y="79.76" class="tl" text-anchor="end">350</text>
<line x1="65.5" y1="34.80" x2="70.3" y2="34.80" class="yt"/>
<text x="61.3" y="38.80" class="tl" text-anchor="end">400</text>
<line x1="70.30" y1="362.5" x2="70.30" y2="366.3" class="xt"/>
<text x="70.30" y="383.6" class="tl" text-anchor="middle">300</text>
<line x1="144.13" y1="362.5" x2="144.13" y2="366.3" class="xt"/>
<text x="144.13" y="383.6" class="tl" text-anchor="middle">350</text>
<line x1="217.97" y1="362.5" x2="217.97" y2="366.3" class="xt"/>
<text x="217.97" y="383.6" class="tl" text-anchor="middle">400</text>
<line x1="291.80" y1="362.5" x2="291.80" y2="366.3" class="xt"/>
<text x="291.80" y="383.6" class="tl" text-anchor="middle">450</text>
<line x1="365.63" y1="362.5" x2="365.63" y2="366.3" class="xt"/>
<text x="365.63" y="383.6" class="tl" text-anchor="middle">500</text>
<line x1="439.47" y1="362.5" x2="439.47" y2="366.3" class="xt"/>
<text x="439.47" y="383.6" class="tl" text-anchor="middle">550</text>
<line x1="513.30" y1="362.5" x2="513.30" y2="366.3" class="xt"/>
<text x="513.30" y="383.6" class="tl" text-anchor="middle">600</text>
<text class="tt" x="291.6" y="407.5" text-anchor="middle">wavelength [nm]</text>
<text class="tt" style="font-size:15px" transform="translate(30.7,198.2) rotate(-90)" text-anchor="middle">Fluorescence intensity [a.u.]</text>
</svg>
</body></html>
